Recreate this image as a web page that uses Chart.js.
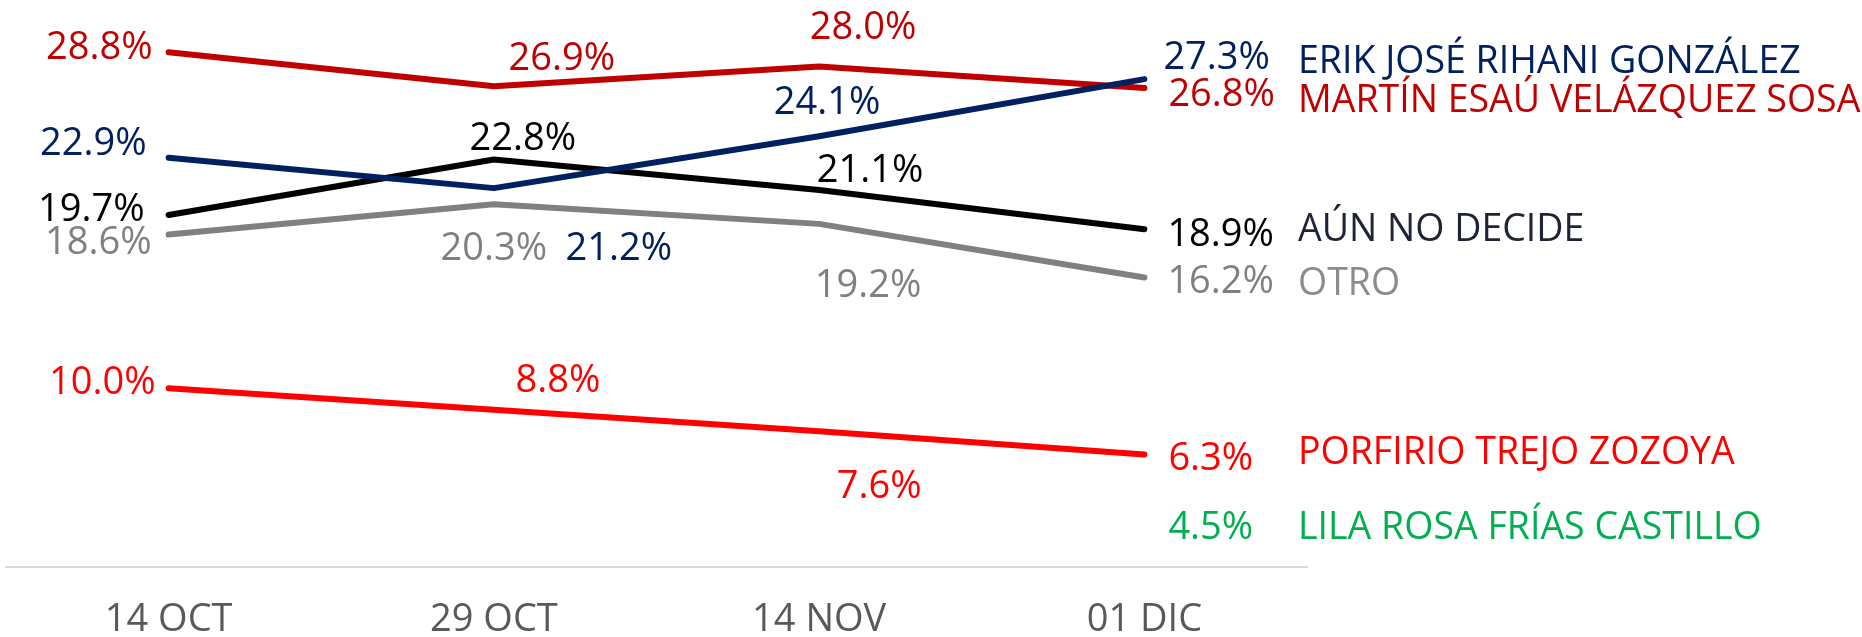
<!DOCTYPE html>
<html>
<head>
<meta charset="utf-8">
<script src="https://cdn.jsdelivr.net/npm/chart.js@4.4.0/dist/chart.umd.min.js"></script>
<style>
  html, body { margin: 0; padding: 0; background: #fff; overflow: hidden; }
  canvas { display: block; }
</style>
</head>
<body>
<canvas id="chart" width="1862" height="637"></canvas>
<script>
// Fechas de levantamiento y resultados (%)
const fechas = ['14 OCT', '29 OCT', '14 NOV', '01 DIC'];
const erik = [22.9, 21.2, 24.1, 27.3];
const martin = [28.8, 26.9, 28.0, 26.8];
const aunNoDecide = [19.7, 22.8, 21.1, 18.9];
const otro = [18.6, 20.3, 19.2, 16.2];
const porfirio = [10.0, 8.8, 7.6, 6.3];
const lila = [null, null, null, 4.5];
const nombres = ['ERIK JOSÉ RIHANI GONZÁLEZ', 'MARTÍN ESAÚ VELÁZQUEZ SOSA', 'AÚN NO DECIDE', 'OTRO', 'PORFIRIO TREJO ZOZOYA', 'LILA ROSA FRÍAS CASTILLO'];

// colores: linea, etiqueta, nombre
const colores = [
    ['#002060', '#002060', '#002060'],
    ['#C00000', '#C00000', '#C00000'],
    ['#000000', '#000000', '#1F2336'],
    ['#808080', '#808080', '#8C8C8C'],
    ['#FF0000', '#FF0000', '#FF0000'],
    ['#00B050', '#00B050', '#00B050']
];

// donde va cada etiqueta respecto a su punto: [alineacion, dx, dy]
const colocacion = [
    [['right', -22, -16], ['center', 125, 58], ['center', 8, -36], ['left', 19, -24]],
    [['right', -16, -7], ['center', 68, -30], ['center', 44, -41], ['left', 24, 4]],
    [['right', -24, -8], ['center', 29, -23], ['center', 51, -21], ['left', 23, 3]],
    [['right', -17, 6], ['center', 0, 42], ['center', 49, 60], ['left', 23, 2]],
    [['right', -13, -8], ['center', 64, -31], ['center', 60, 53], ['left', 24, 2]],
    [null, null, null, ['left', 24, 39]]
];
const nombreDy = [-20, 11, -2, 4, -4, 39];

const FUENTE = '"Open Sans", "Noto Sans", sans-serif';

const etiquetas = {
    id: 'etiquetas',
    afterDatasetsDraw(chart) {
        const ctx = chart.ctx;
        const area = chart.chartArea;
        ctx.save();
        chart.data.datasets.forEach((ds, i) => {
            const meta = chart.getDatasetMeta(i);
            meta.data.forEach((pt, j) => {
                const v = ds.data[j];
                const pos = colocacion[i][j];
                if (v == null || !pos) return;
                ctx.font = '38px ' + FUENTE;
                ctx.fillStyle = colores[i][1];
                ctx.textAlign = pos[0];
                ctx.textBaseline = 'alphabetic';
                ctx.fillText(v.toFixed(1) + '%', pt.x + pos[1], pt.y + pos[2] + 38 * 0.357);
            });
            const ultimo = meta.data[meta.data.length - 1];
            ctx.font = '37.5px ' + FUENTE;
            ctx.fillStyle = colores[i][2];
            ctx.textAlign = 'left';
            ctx.fillText(nombres[i], area.right - 9, ultimo.y + nombreDy[i] + 37.5 * 0.357);
        });
        ctx.restore();
    }
};

const series = [erik, martin, aunNoDecide, otro, porfirio, lila];

new Chart(document.getElementById('chart'), {
    type: 'line',
    data: {
        labels: fechas,
        datasets: series.map((d, i) => ({
            label: nombres[i],
            data: d,
            borderColor: colores[i][0],
            backgroundColor: colores[i][0],
            // lila solo tiene el dato final, sin linea visible
            borderWidth: d.filter(v => v != null).length > 1 ? 6 : 0,
            borderCapStyle: 'round',
            borderJoinStyle: 'round',
            pointRadius: 0,
            tension: 0
        }))
    },
    options: {
        responsive: false,
        animation: false,
        // chart.js reserva el padding de los ticks dos veces; se compensa abajo
        layout: { padding: { left: 6, right: 555, top: 13, bottom: -36 } },
        plugins: {
            legend: { display: false },
            tooltip: { enabled: false }
        },
        scales: {
            x: {
                offset: true,
                grid: { display: false, drawTicks: false },
                border: { display: true, color: '#D9D9D9', width: 2 },
                ticks: {
                    color: '#595959',
                    padding: 34,
                    font: { family: FUENTE, size: 38, lineHeight: 1 }
                }
            },
            y: {
                display: false,
                min: 0,
                max: 31
            }
        }
    },
    plugins: [etiquetas]
});
</script>
</body>
</html>
